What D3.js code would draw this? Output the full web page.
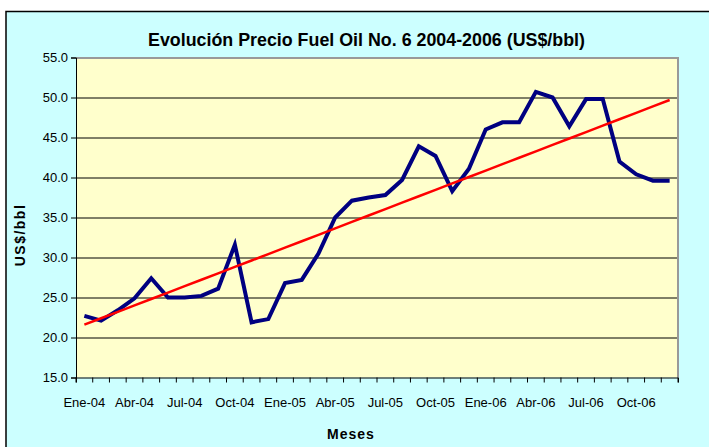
<!DOCTYPE html>
<html>
<head>
<meta charset="utf-8">
<script src="https://cdn.jsdelivr.net/npm/d3@7"></script>
<style>
  body { margin: 0; background: #fff; }
  text { font-family: "Liberation Sans", Arial, sans-serif; fill: #000; }
  .tick text { font-size: 13px; }
</style>
</head>
<body>
<svg id="chart" width="709" height="447"></svg>
<script>
/* DATA */
const months = [
  "Ene-04", "Feb-04", "Mar-04", "Abr-04", "May-04", "Jun-04", "Jul-04", "Ago-04", "Sep-04", "Oct-04", "Nov-04", "Dic-04",
  "Ene-05", "Feb-05", "Mar-05", "Abr-05", "May-05", "Jun-05", "Jul-05", "Ago-05", "Sep-05", "Oct-05", "Nov-05", "Dic-05",
  "Ene-06", "Feb-06", "Mar-06", "Abr-06", "May-06", "Jun-06", "Jul-06", "Ago-06", "Sep-06", "Oct-06", "Nov-06", "Dic-06"
];
const prices = [
  22.7, 22.1, 23.4, 24.9, 27.4, 25.0, 25.0, 25.2, 26.1, 31.6, 21.9, 22.3,
  26.8, 27.2, 30.5, 35.0, 37.1, 37.5, 37.8, 39.7, 43.9, 42.7, 38.3, 41.1,
  46.0, 46.9, 46.9, 50.7, 50.0, 46.4, 49.8, 49.8, 42.0, 40.4, 39.6, 39.6
];
const yTicks = [15, 20, 25, 30, 35, 40, 45, 50, 55];
const xLabels = ["Ene-04", "Abr-04", "Jul-04", "Oct-04", "Ene-05", "Abr-05", "Jul-05", "Oct-05", "Ene-06", "Abr-06", "Jul-06", "Oct-06"];

const svg = d3.select("svg#chart");

/* FRAME */
svg.append("rect")
  .attr("x", 6).attr("y", 11.5)
  .attr("width", 720).attr("height", 450)
  .attr("fill", "#CCFFFF")
  .attr("stroke", "#000").attr("stroke-width", 1.5);

const plot = { left: 76, top: 57.5, right: 678, bottom: 377.5 };
const plotWidth = plot.right - plot.left;
const plotHeight = plot.bottom - plot.top;

const g = svg.append("g").attr("transform", "translate(" + plot.left + "," + plot.top + ")");

/* SCALES */
const xScale = d3.scaleBand().domain(months).range([0, plotWidth]);
const yScale = d3.scaleLinear().domain([15, 55]).range([plotHeight, 0]);

g.append("rect")
  .attr("width", plotWidth).attr("height", plotHeight)
  .attr("fill", "#FFFFCC");

/* GRID */
g.append("g")
  .selectAll("line")
  .data(yTicks.filter(d => d > 15 && d < 55))
  .join("line")
  .attr("x1", 0).attr("x2", plotWidth)
  .attr("y1", d => Math.round(yScale(d)) + 0.5)
  .attr("y2", d => Math.round(yScale(d)) + 0.5)
  .attr("stroke", "#000").attr("stroke-width", 1);

// grey border on top and right
g.append("path")
  .attr("d", "M0," + 0.5 + "H" + plotWidth + "V" + plotHeight)
  .attr("fill", "none").attr("stroke", "#999").attr("stroke-width", 2);

/* AXES */
const yAxis = d3.axisLeft(yScale).tickValues(yTicks).tickFormat(d3.format(".1f")).tickSize(5).tickPadding(3);
const yGroup = g.append("g").call(yAxis);
yGroup.select(".domain").attr("stroke", "#000");

const xAxis = d3.axisBottom(xScale).tickSize(5).tickFormat("").tickSizeOuter(5);
const xGroup = g.append("g").attr("transform", "translate(0," + plotHeight + ")").call(xAxis);
// ticks sit on category boundaries
xGroup.selectAll(".tick").attr("transform", d => "translate(" + xScale(d) + ",0)");
xGroup.append("line")
  .attr("x1", plotWidth).attr("x2", plotWidth).attr("y1", 0).attr("y2", 5)
  .attr("stroke", "#000");

xGroup.selectAll(".month-label")
  .data(xLabels)
  .join("text")
  .attr("class", "month-label")
  .attr("x", d => xScale(d) + xScale.bandwidth() / 2)
  .attr("y", 29)
  .attr("text-anchor", "middle")
  .attr("font-size", 13)
  .text(d => d);

/* SERIES */
const xPos = (d, i) => xScale(months[i]) + xScale.bandwidth() / 2;

g.append("path")
  .datum(prices)
  .attr("d", d3.line().x(xPos).y(d => yScale(d)))
  .attr("fill", "none")
  .attr("stroke", "#000080")
  .attr("stroke-width", 4)
  .attr("stroke-linejoin", "miter");

// linear trend line (least squares)
const meanX = d3.mean(prices, (d, i) => i);
const meanY = d3.mean(prices);
const slope = d3.sum(prices, (d, i) => (i - meanX) * (d - meanY)) / d3.sum(prices, (d, i) => (i - meanX) * (i - meanX));
const intercept = meanY - slope * meanX;
const trend = prices.map((d, i) => intercept + slope * i);

g.append("path")
  .datum(trend)
  .attr("d", d3.line().x(xPos).y(d => yScale(d)))
  .attr("fill", "none")
  .attr("stroke", "#FF0000")
  .attr("stroke-width", 2.5);

/* TITLES */
svg.append("text")
  .attr("x", 148).attr("y", 46)
  .attr("font-size", 19).attr("font-weight", "bold")
  .attr("textLength", 437).attr("lengthAdjust", "spacingAndGlyphs")
  .text("Evolución Precio Fuel Oil No. 6 2004-2006 (US$/bbl)");

svg.append("text")
  .attr("x", 351).attr("y", 439)
  .attr("text-anchor", "middle")
  .attr("font-size", 14).attr("font-weight", "bold")
  .attr("letter-spacing", 1)
  .text("Meses");

svg.append("text")
  .attr("transform", "translate(25,235) rotate(-90)")
  .attr("text-anchor", "middle")
  .attr("font-size", 14).attr("font-weight", "bold")
  .attr("letter-spacing", 1.5)
  .text("US$/bbl");
</script>
</body>
</html>
